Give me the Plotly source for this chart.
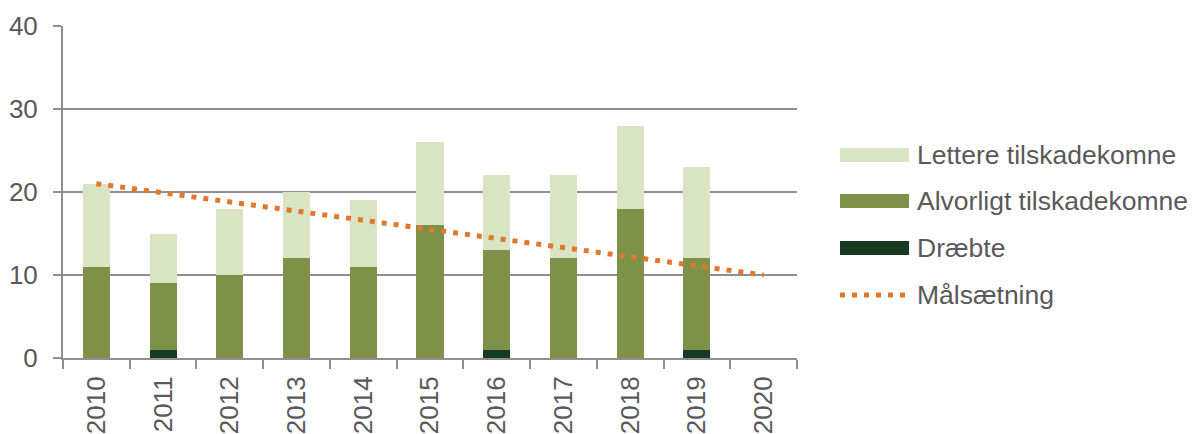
import plotly.graph_objects as go

years = ["2010", "2011", "2012", "2013", "2014", "2015", "2016", "2017", "2018", "2019", "2020"]
draebte = [0, 1, 0, 0, 0, 0, 1, 0, 0, 1, None]
alvorligt = [11, 8, 10, 12, 11, 16, 12, 12, 18, 11, None]
lettere = [10, 6, 8, 8, 8, 10, 9, 10, 10, 11, None]
maal_years = ["2010", "2020"]
maal_values = [21, 10]

c_lettere = "#d9e4c2"
c_alvorligt = "#7e9149"
c_draebte = "#163a22"
c_maal = "#e0782d"
c_grid = "#8f8f8f"
c_text = "#595959"
font_family = "Liberation Sans, Arial, sans-serif"

fig = go.Figure()
for name, vals, col in [("Dræbte", draebte, c_draebte),
                        ("Alvorligt tilskadekomne", alvorligt, c_alvorligt),
                        ("Lettere tilskadekomne", lettere, c_lettere)]:
    fig.add_trace(go.Bar(x=years, y=vals, name=name, marker=dict(color=col, line=dict(width=0)),
                         showlegend=False))

fig.add_trace(go.Scatter(x=maal_years, y=maal_values, mode="lines", name="Målsætning",
                         line=dict(color=c_maal, width=5, dash="5px,7px"), showlegend=False))

# Legend drawn in paper space
legend_items = [
    ("Lettere tilskadekomne", c_lettere, 155, "bar"),
    ("Alvorligt tilskadekomne", c_alvorligt, 201, "bar"),
    ("Dræbte", c_draebte, 248, "bar"),
    ("Målsætning", c_maal, 295, "line"),
]
W, H = 1203, 434
ml, mr, mt, mb = 63, 406, 26, 76
pw, ph = W - ml - mr, H - mt - mb

def px_x(x):
    return (x - ml) / pw

def px_y(y):
    return (H - mb - y) / ph

shapes = []
annotations = []
for label, col, yc, kind in legend_items:
    if kind == "bar":
        shapes.append(dict(type="rect", xref="paper", yref="paper",
                           x0=px_x(840), x1=px_x(909), y0=px_y(yc + 7), y1=px_y(yc - 7),
                           fillcolor=col, line=dict(width=0)))
    else:
        shapes.append(dict(type="line", xref="paper", yref="paper",
                           x0=px_x(840), x1=px_x(910), y0=px_y(yc), y1=px_y(yc),
                           line=dict(color=col, width=5, dash="5px,7px")))
    annotations.append(dict(text=label, xref="paper", yref="paper", x=px_x(915), y=px_y(yc),
                            xanchor="left", yanchor="middle", showarrow=False,
                            font=dict(size=26.5, color=c_text, family=font_family)))

fig.update_layout(
    width=W, height=H,
    margin=dict(l=ml, r=mr, t=mt, b=mb, pad=0, autoexpand=False),
    barmode="stack", bargap=0.595,
    plot_bgcolor="white", paper_bgcolor="white",
    font=dict(family=font_family, color=c_text, size=26),
    shapes=shapes, annotations=annotations,
    xaxis=dict(type="category", tickangle=-90, showgrid=False, showline=True, linecolor=c_grid,
               linewidth=2, ticks="outside", tickson="boundaries", ticklen=9, tickcolor=c_grid,
               tickwidth=2, ticklabelstandoff=6, automargin=False,
               tickfont=dict(size=26, color=c_text)),
    yaxis=dict(range=[0, 40], tickvals=[0, 10, 20, 30, 40], showgrid=True, gridcolor=c_grid,
               gridwidth=2, showline=True, linecolor=c_grid, linewidth=2, ticks="outside",
               ticklen=8, tickcolor=c_grid, tickwidth=2, zeroline=False, ticklabelstandoff=10,
               automargin=False, tickfont=dict(size=26, color=c_text)),
)

fig.write_html("out.html")
